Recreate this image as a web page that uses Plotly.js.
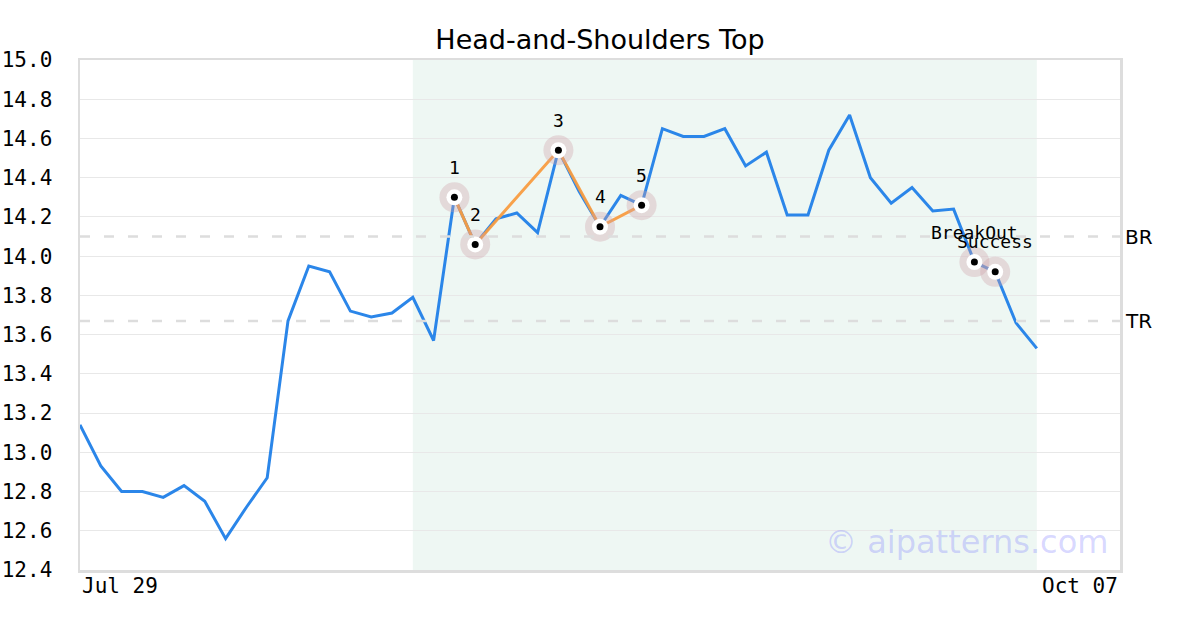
<!DOCTYPE html>
<html>
<head>
<meta charset="utf-8">
<script src="https://cdn.plot.ly/plotly-3.0.1.min.js"></script>
<style>
html,body{margin:0;padding:0;background:#fff;}
#chart{width:1200px;height:630px;}
</style>
</head>
<body>
<div id="chart"></div>
<script>
// ---- data ----
const xLabels = ["Jul 29", "Oct 07"];
const prices = [13.14, 12.93, 12.80, 12.80, 12.77, 12.83, 12.75, 12.56, 12.72, 12.87,
  13.67, 13.95, 13.92, 13.72, 13.69, 13.71, 13.79, 13.57, 14.30, 14.06,
  14.19, 14.22, 14.12, 14.54, 14.33, 14.15, 14.31, 14.26, 14.65, 14.61,
  14.61, 14.65, 14.46, 14.53, 14.21, 14.21, 14.54, 14.72, 14.40, 14.27,
  14.35, 14.23, 14.24, 13.97, 13.92, 13.66, 13.53];
const patternIdx = [18, 19, 23, 25, 27];
const patternLabels = ["1", "2", "3", "4", "5"];
const eventIdx = [43, 44];
const eventLabels = ["BreakOut", "Success"];
const levelNames = ["BR", "TR"];
const levelValues = [14.10, 13.67];
const zoneStart = 16, zoneEnd = 46;
const axisEnd = 50;

// ---- traces ----
const xs = prices.map((_, i) => i);
const patternY = patternIdx.map(i => prices[i]);
const eventY = eventIdx.map(i => prices[i]);
const markX = patternIdx.concat(eventIdx);
const markY = patternY.concat(eventY);

const traces = [
  {x: xs, y: prices, mode: 'lines', line: {color: '#2b86e9', width: 3}, hoverinfo: 'skip'},
  {x: patternIdx, y: patternY, mode: 'lines', line: {color: '#f89c40', width: 3}, opacity: 0.95, hoverinfo: 'skip'},
  {x: markX, y: markY, mode: 'markers', marker: {size: 30, color: 'rgba(205,160,170,0.35)'}, hoverinfo: 'skip'},
  {x: markX, y: markY, mode: 'markers', marker: {size: 16, color: '#ffffff'}, hoverinfo: 'skip'},
  {x: markX, y: markY, mode: 'markers', marker: {size: 7, color: '#000000'}, hoverinfo: 'skip'}
];

// ---- annotations ----
const annotations = [];
patternIdx.forEach((i, k) => annotations.push({
  x: i, y: prices[i], text: patternLabels[k], showarrow: false, yshift: 30,
  font: {family: 'DejaVu Sans Mono', size: 18, color: '#000'}
}));
eventIdx.forEach((i, k) => annotations.push({
  x: i, y: prices[i], text: eventLabels[k], showarrow: false, yshift: 30,
  font: {family: 'DejaVu Sans Mono', size: 18, color: '#000'}
}));
levelNames.forEach((n, k) => annotations.push({
  xref: 'paper', x: 1, y: levelValues[k], text: n, showarrow: false,
  xanchor: 'left', xshift: 3, font: {family: 'DejaVu Sans', size: 20, color: '#000'}
}));
annotations.push({x: 0, yref: 'paper', y: 0, text: xLabels[0], showarrow: false,
  xanchor: 'left', yanchor: 'top', yshift: -2, font: {family: 'DejaVu Sans Mono', size: 21, color: '#000'}});
annotations.push({x: axisEnd, yref: 'paper', y: 0, text: xLabels[1], showarrow: false,
  xanchor: 'right', yanchor: 'top', yshift: -2, font: {family: 'DejaVu Sans Mono', size: 21, color: '#000'}});
annotations.push({xref: 'paper', yref: 'paper', x: 0.99, y: 0.055, text: '© aipatterns.com', showarrow: false,
  xanchor: 'right', yanchor: 'middle', font: {family: 'DejaVu Sans', size: 32, color: 'rgba(120,120,255,0.3)'}});

// ---- shapes ----
const shapes = [
  {type: 'rect', xref: 'x', yref: 'paper', x0: zoneStart, x1: zoneEnd, y0: 0, y1: 1,
   fillcolor: '#eef7f3', line: {width: 0}, layer: 'below'}
];
levelValues.forEach(v => shapes.push({
  type: 'line', xref: 'paper', x0: 0, x1: 1, y0: v, y1: v,
  line: {color: '#dddddd', width: 2.5, dash: '10px,14px'}, layer: 'above'
}));

const layout = {
  width: 1200, height: 630,
  margin: {l: 80, r: 80, t: 60, b: 60},
  paper_bgcolor: '#ffffff', plot_bgcolor: 'rgba(0,0,0,0)',
  showlegend: false,
  title: {text: 'Head-and-Shoulders Top', x: 0.5, xanchor: 'center', y: 1 - 40/630, yanchor: 'middle',
    font: {family: 'DejaVu Sans', size: 27, color: '#000'}},
  xaxis: {range: [0, axisEnd], showgrid: false, zeroline: false, showticklabels: false,
    showline: true, mirror: true, linecolor: '#dddddd', linewidth: 2.5, fixedrange: true},
  yaxis: {range: [12.4, 15.0], dtick: 0.2, tick0: 12.4, tickformat: '.1f', showgrid: true,
    gridcolor: '#e8e8e8', gridwidth: 1, zeroline: false,
    showline: true, mirror: true, linecolor: '#dddddd', linewidth: 2.5,
    ticks: '', ticklabelstandoff: 21,
    tickfont: {family: 'DejaVu Sans Mono', size: 21, color: '#000'}, fixedrange: true},
  shapes: shapes,
  annotations: annotations
};

Plotly.newPlot('chart', traces, layout, {displayModeBar: false, staticPlot: true});
</script>
</body>
</html>
